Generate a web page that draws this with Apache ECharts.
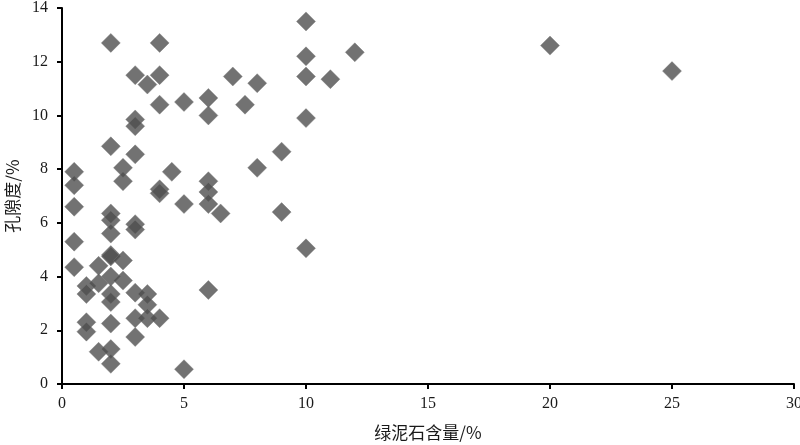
<!DOCTYPE html>
<html>
<head>
<meta charset="utf-8">
<script src="https://cdn.jsdelivr.net/npm/echarts@6/dist/echarts.min.js"></script>
<style>
  html, body { margin: 0; padding: 0; background: #fff; }
  #chart { width: 800px; height: 445px; }
</style>
</head>
<body>
<div id="chart"></div>
<script>
// 绿泥石含量 (%) vs 孔隙度 (%)
const chloriteContent = [
  2, 4, 10, 10, 12, 20, 25,
  3, 3.5, 4, 7, 8, 10, 11,
  4, 5, 6, 6, 7.5, 10, 3, 3,
  2, 3, 2.5, 2.5, 0.5, 0.5, 0.5, 0.5,
  2, 2, 2, 2, 3, 3,
  4.5, 4, 4, 5, 6, 6, 6, 6.5,
  8, 9, 9, 10,
  0.5, 2, 2.5, 1.5, 1, 1, 1.5, 2, 2, 2, 2.5,
  3, 3.5, 3.5, 3, 3.5, 4, 2, 1, 1, 3,
  1.5, 2, 2, 5, 6
]
const porosity = [
  12.7, 12.7, 13.5, 12.2, 12.35, 12.6, 11.65,
  11.5, 11.15, 11.5, 11.45, 11.2, 11.45, 11.35,
  10.4, 10.5, 10.65, 10.0, 10.4, 9.9, 9.85, 9.6,
  8.85, 8.55, 8.05, 7.55, 7.9, 7.4, 6.6, 5.3,
  6.35, 6.1, 5.6, 4.8, 5.95, 5.75,
  7.9, 7.25, 7.1, 6.7, 7.55, 7.15, 6.7, 6.35,
  8.05, 8.65, 6.4, 5.05,
  4.35, 4.75, 4.6, 4.4, 3.65, 3.35, 3.75, 4.0, 3.35, 3.05, 3.85,
  3.4, 3.35, 2.95, 2.45, 2.45, 2.45, 2.25, 2.3, 1.95, 1.75,
  1.2, 1.3, 0.75, 0.55, 3.5
]
const xTicks = [0, 5, 10, 15, 20, 25, 30]
const yTicks = [0, 2, 4, 6, 8, 10, 12, 14]

const points = chloriteContent.map((x, i) => [x, porosity[i]])

const chart = echarts.init(document.getElementById('chart'))

const axisFont = {
  fontFamily: 'Liberation Serif, "Noto Sans CJK SC", serif',
  fontSize: 16,
  color: '#1a1a1a'
}

const nameFont = {
  fontFamily: '"Noto Sans CJK SC", Liberation Serif, serif',
  fontSize: 17,
  color: '#1a1a1a'
}

const option = {
  animation: false,
  grid: {
    left: 62,
    right: 6,
    top: 8,
    bottom: 61,
    containLabel: false,
    outerBoundsMode: 'none'
  },
  xAxis: {
    type: 'value',
    min: xTicks[0],
    max: xTicks[xTicks.length - 1],
    interval: 5,
    name: '绿泥石含量/%',
    nameLocation: 'middle',
    nameGap: 40,
    nameTextStyle: nameFont,
    axisLine: { lineStyle: { color: '#000', width: 2 } },
    axisTick: { inside: false, length: 5, lineStyle: { color: '#000', width: 2 } },
    axisLabel: Object.assign({ margin: 12 }, axisFont),
    splitLine: { show: false }
  },
  yAxis: {
    type: 'value',
    min: yTicks[0],
    max: yTicks[yTicks.length - 1],
    interval: 2,
    name: '孔隙度/%',
    nameLocation: 'middle',
    nameGap: 37,
    nameRotate: 90,
    nameTextStyle: nameFont,
    axisLine: { show: true, lineStyle: { color: '#000', width: 2 } },
    axisTick: { show: true, inside: false, length: 5, lineStyle: { color: '#000', width: 2 } },
    axisLabel: Object.assign({ margin: 14 }, axisFont),
    splitLine: { show: false }
  },
  series: [
    {
      type: 'scatter',
      data: points,
      symbol: 'diamond',
      symbolSize: 19,
      itemStyle: {
        color: '#4f4f4f',
        borderColor: '#7a7a7a',
        borderWidth: 0.5
      }
    }
  ]
}

chart.setOption(option)
</script>
</body>
</html>
